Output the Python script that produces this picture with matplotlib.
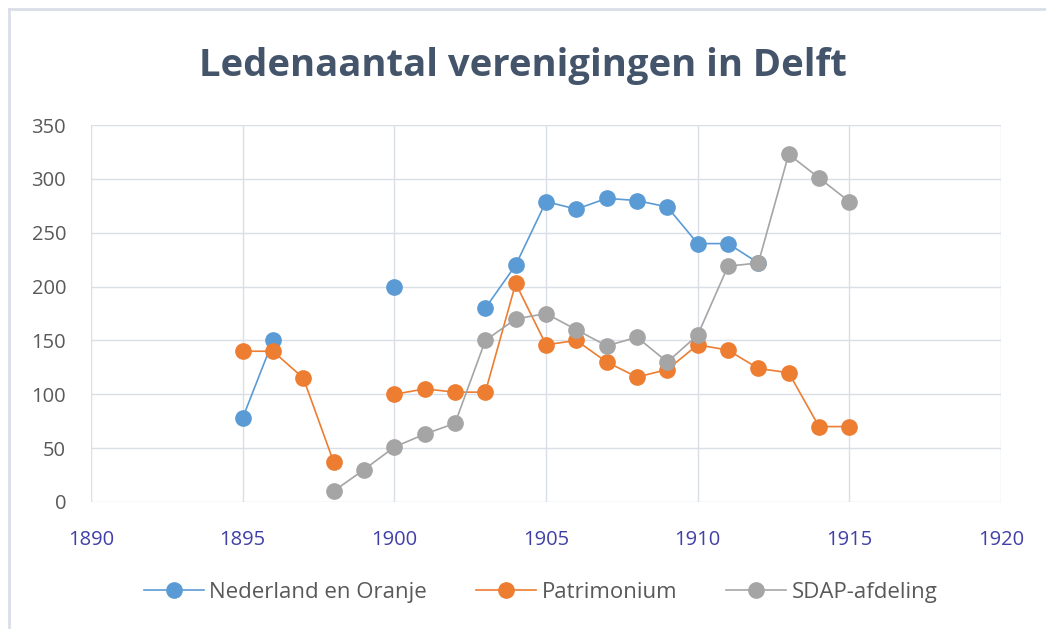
import numpy as np
import matplotlib.pyplot as plt
from matplotlib.lines import Line2D

plt.rcParams['font.family'] = ['Open Sans', 'DejaVu Sans']

# data (nan = no value that year)
years = list(range(1895, 1916))
nederland_oranje = [78, 150, np.nan, np.nan, np.nan, 200, np.nan, np.nan, 180, 220,
                    279, 272, 282, 280, 274, 240, 240, 222, np.nan, np.nan, np.nan]
patrimonium = [140, 140, 115, 37, np.nan, 100, 105, 102, 102, 203,
               146, 150, 130, 116, 123, 146, 141, 124, 120, 70, 70]
sdap = [np.nan, np.nan, np.nan, 10, 30, 51, 63, 73, 150, 170,
        175, 160, 145, 153, 130, 155, 219, 222, 323, 301, 279]

series = [
    ("Nederland en Oranje", nederland_oranje, "#5B9BD5"),
    ("Patrimonium", patrimonium, "#ED7D31"),
    ("SDAP-afdeling", sdap, "#A5A5A5"),
]

fig = plt.figure(figsize=(10.46, 6.29), dpi=100)
ax = fig.add_axes([0.087, 0.202, 0.870, 0.599])

grid_col = "#D9DEE7"
for name, vals, col in series:
    ax.plot(years, vals, color=col, linewidth=1.2, marker="o", markersize=11,
            markeredgecolor=col, markerfacecolor=col, label=name, zorder=3)

ax.set_xlim(1890, 1920)
ax.set_ylim(0, 350)
ax.set_xticks(range(1890, 1921, 5))
ax.set_yticks(range(0, 351, 50))
ax.grid(True, color=grid_col, linewidth=1.0, zorder=0)
for s in ax.spines.values():
    s.set_visible(False)
ax.tick_params(length=0)
ax.tick_params(axis="x", colors="#4040A8", labelsize=14.5, pad=20)
ax.tick_params(axis="y", colors="#595959", labelsize=14.5, pad=18)

fig.text(0.5, 0.895, "Ledenaantal verenigingen in Delft", ha="center", va="center",
         fontsize=27.5, fontweight="bold", color="#44546A")

handles = [Line2D([0], [0], color=c, linewidth=1.2, marker="o", markersize=11,
                  markerfacecolor=c, markeredgecolor=c) for _, _, c in series]
fig.legend(handles, [n for n, _, _ in series], loc="center", bbox_to_anchor=(0.517, 0.058),
           ncol=3, frameon=False, fontsize=16, labelcolor="#595959",
           handlelength=2.7, columnspacing=2.2, handletextpad=0.25)

# chart border (only top/left visible in the screenshot)
fig.add_artist(Line2D([0.0086, 0.0086], [0, 0.985], color=grid_col, linewidth=2,
                      transform=fig.transFigure))
fig.add_artist(Line2D([0.0086, 1.0], [0.985, 0.985], color=grid_col, linewidth=2,
                      transform=fig.transFigure))

fig.savefig("out.png", dpi=100)
